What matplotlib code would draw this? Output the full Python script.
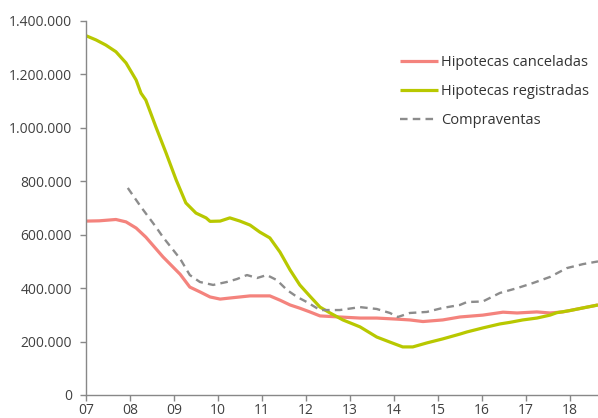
import matplotlib
matplotlib.use("Agg")
import matplotlib.pyplot as plt
from matplotlib.ticker import FuncFormatter

# ---- data ----
t_reg = [2007.0, 2007.23, 2007.45, 2007.68, 2007.91, 2008.14, 2008.25, 2008.36, 2008.59, 2008.82,
         2009.05, 2009.27, 2009.5, 2009.73, 2009.82, 2010.05, 2010.27, 2010.5, 2010.73, 2010.95,
         2011.18, 2011.41, 2011.64, 2011.86, 2012.09, 2012.32, 2012.55, 2012.84, 2013.23, 2013.61,
         2013.91, 2014.2, 2014.43, 2014.75, 2015.11, 2015.5, 2015.66, 2016.02, 2016.41, 2016.64,
         2016.93, 2017.25, 2017.55, 2017.7, 2018.0, 2018.3, 2018.64]
v_reg = [1345000, 1329000, 1310000, 1285000, 1243000, 1179000, 1130000, 1104000, 1003000, 906000,
         805000, 719000, 681000, 663000, 650000, 651000, 663000, 651000, 636000, 610000,
         588000, 535000, 468000, 412000, 370000, 329000, 307000, 281000, 255000, 217000,
         198000, 180000, 180000, 195000, 210000, 228000, 236000, 251000, 266000, 272000,
         281000, 288000, 299000, 308000, 316000, 326000, 337000]

t_can = [2007.0, 2007.3, 2007.68, 2007.91, 2008.14, 2008.36, 2008.75, 2009.14, 2009.36, 2009.59,
         2009.82, 2010.05, 2010.27, 2010.5, 2010.73, 2011.18, 2011.41, 2011.64, 2011.86, 2012.09,
         2012.32, 2012.77, 2013.23, 2013.61, 2014.07, 2014.36, 2014.66, 2015.11, 2015.5, 2016.02,
         2016.48, 2016.8, 2017.25, 2017.55, 2017.84, 2018.3, 2018.64]
v_can = [651000, 652000, 657000, 648000, 625000, 591000, 517000, 452000, 404000, 386000,
         367000, 359000, 363000, 367000, 371000, 371000, 355000, 337000, 325000, 311000,
         296000, 292000, 288000, 288000, 284000, 281000, 275000, 281000, 292000, 299000,
         310000, 307000, 311000, 307000, 311000, 326000, 337000]

t_com = [2007.95, 2008.25, 2008.59, 2008.75, 2009.14, 2009.36, 2009.59, 2009.89, 2010.2, 2010.43,
         2010.66, 2010.89, 2011.11, 2011.34, 2011.57, 2011.8, 2012.02, 2012.32, 2012.77, 2013.23,
         2013.61, 2013.91, 2014.09, 2014.36, 2014.75, 2015.11, 2015.5, 2015.66, 2016.02, 2016.41,
         2016.8, 2017.16, 2017.55, 2017.93, 2018.3, 2018.64]
v_com = [775000, 704000, 629000, 591000, 510000, 449000, 423000, 412000, 423000, 434000,
         449000, 438000, 449000, 430000, 393000, 367000, 348000, 318000, 318000, 329000,
         322000, 307000, 292000, 307000, 311000, 326000, 337000, 348000, 350000, 382000,
         400000, 419000, 442000, 475000, 490000, 500000]

series_labels = ["Hipotecas canceladas", "Hipotecas registradas", "Compraventas"]
year_ticks = list(range(2007, 2019))
year_labels = ["%02d" % (y % 100) for y in year_ticks]
y_ticks = [0, 200000, 400000, 600000, 800000, 1000000, 1200000, 1400000]

# ---- figure ----
plt.rcParams['font.family'] = ['Open Sans', 'DejaVu Sans']
fig = plt.figure(figsize=(5.98, 4.18), dpi=100)
ax = fig.add_axes([86/598, 1 - 395/418, 1 - 86/598, (395 - 21)/418])

c_can = "#F4837D"
c_reg = "#B8C800"
c_com = "#8C8C8C"

ax.plot(t_can, v_can, color=c_can, lw=2.3, label=series_labels[0], solid_capstyle='butt')
ax.plot(t_reg, v_reg, color=c_reg, lw=2.3, label=series_labels[1], solid_capstyle='butt')
ax.plot(t_com, v_com, color=c_com, lw=1.7, ls=(0, (3.2, 2.2)), label=series_labels[2])

ax.set_xlim(2007, 2018.64)
ax.set_ylim(0, 1400000)
ax.set_xticks(year_ticks)
ax.set_xticklabels(year_labels)
ax.set_yticks(y_ticks)
ax.yaxis.set_major_formatter(FuncFormatter(lambda v, p: "{:,.0f}".format(v).replace(",", ".")))

for s in ["top", "right"]:
    ax.spines[s].set_visible(False)
for s in ["left", "bottom"]:
    ax.spines[s].set_color("#888888")
    ax.spines[s].set_linewidth(1.0)
ax.tick_params(axis="both", direction="out", length=4, width=1, color="#888888",
               labelcolor="#404040", labelsize=10)
ax.tick_params(axis="y", pad=6)
ax.tick_params(axis="x", pad=2)

leg = ax.legend(loc="upper right", bbox_to_anchor=(1.0, 0.932), frameon=False, fontsize=10.5,
                handlelength=2.6, handletextpad=0.25, labelspacing=0.95, borderaxespad=0.2,
                labelcolor="#333333")

fig.savefig("out.png", dpi=100)
